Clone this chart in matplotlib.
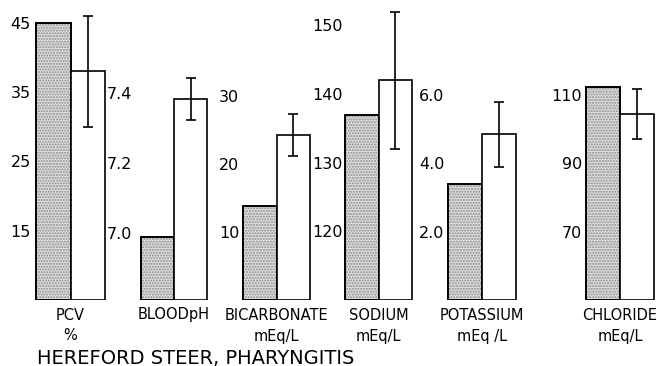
import numpy as np
import matplotlib
matplotlib.use("Agg")
import matplotlib.pyplot as plt
from matplotlib.ticker import FormatStrFormatter

# data (stippled = first bar, white = second bar with error)
names = ["PCV", "BLOODpH", "BICARBONATE", "SODIUM", "POTASSIUM", "CHLORIDE"]
units = ["%", "", "mEq/L", "mEq/L", "mEq /L", "mEq/L"]
stippled = [45, 6.99, 13.8, 137, 3.4, 112.2]
white = [38, 7.385, 24.2, 142, 4.85, 104.3]
white_err = [8, 0.06, 3.1, 10, 0.95, 7.3]
tick_values = [[15, 25, 35, 45], [7.0, 7.2, 7.4], [10, 20, 30],
               [120, 130, 140, 150], [2.0, 4.0, 6.0], [70, 90, 110]]
title = "HEREFORD STEER, PHARYNGITIS"

# layout in pixels of the 657x366 picture
W, H = 657, 366
panel_x = [(35, 106), (140, 208), (242, 311), (344, 413), (447, 517), (585, 655)]
base_px = 300
ylims = [(5, 48.3), (6.81, 7.667), (0, 44.1), (110, 153.7), (0, 8.78), (50, 137.6)]
tick_fmt = ["%d", "%.1f", "%d", "%d", "%.1f", "%d"]
tick_pad = [3, 6, 2, 1, 2, 2]


def draw_panel(fig, i):
	x0, x1 = panel_x[i]
	ax = fig.add_axes([x0 / W, (H - base_px) / H, (x1 - x0) / W, base_px / H])
	lo, hi = ylims[i]
	# stippled bar: grey dots then a black outline on top
	ax.bar(0, stippled[i] - lo, bottom=lo, width=1, align="edge",
		facecolor="#dedede", edgecolor="#8c8c8c", hatch="......", linewidth=0)
	ax.bar(0, stippled[i] - lo, bottom=lo, width=1, align="edge",
		fill=False, edgecolor="black", linewidth=1.4)
	ax.bar(1, white[i] - lo, bottom=lo, width=1, align="edge",
		facecolor="white", edgecolor="black", linewidth=1.2)
	ax.errorbar(1.5, white[i], yerr=white_err[i], color="black",
		linewidth=1.2, capsize=3.5, capthick=1.2)
	ax.set_xlim(-0.02, 2.02)
	ax.set_ylim(lo, hi)
	ax.set_yticks(tick_values[i])
	ax.yaxis.set_major_formatter(FormatStrFormatter(tick_fmt[i]))
	ax.tick_params(axis="y", length=0, pad=tick_pad[i], labelsize=11.5)
	ax.set_xticks([])
	for s in ax.spines.values():
		s.set_visible(False)
	ax.patch.set_visible(False)
	cx = (x0 + x1) / 2 / W
	fig.text(cx, 1 - 315 / H, names[i], ha="center", va="center", fontsize=10.5)
	if units[i]:
		fig.text(cx, 1 - 336 / H, units[i], ha="center", va="center", fontsize=10.5)


def main():
	plt.rcParams["font.family"] = ["DejaVu Sans"]
	fig = plt.figure(figsize=(W / 100, H / 100), dpi=100)
	for i in range(len(names)):
		draw_panel(fig, i)
	fig.text(37 / W, 1 - 358 / H, title, ha="left", va="center", fontsize=14)
	fig.savefig("out.png", dpi=100)


if __name__ == "__main__":
	main()
